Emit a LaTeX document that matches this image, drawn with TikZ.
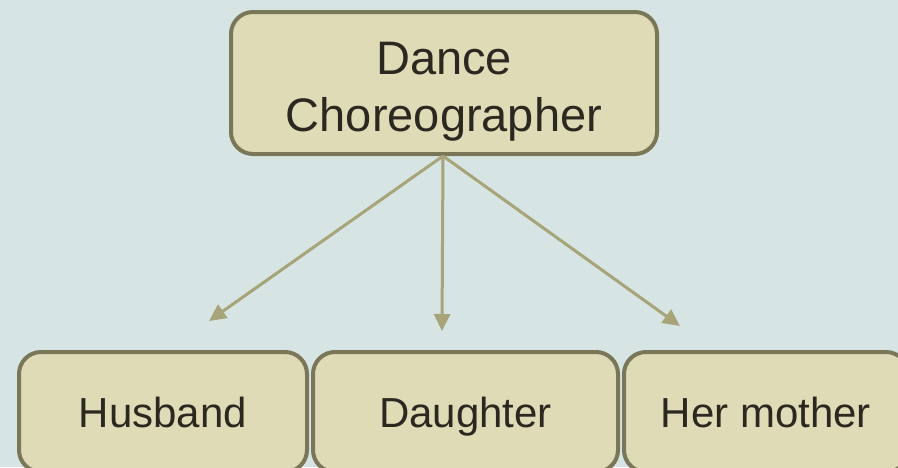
\documentclass[tikz,border=0pt]{standalone}
\usepackage{fontspec}
\setmainfont{Liberation Sans}
\usetikzlibrary{arrows.meta}
\definecolor{bgc}{HTML}{D6E4E4}
\definecolor{boxfill}{HTML}{DFDBB7}
\definecolor{boxline}{HTML}{7A7658}
\definecolor{arrowc}{HTML}{A7A479}
\definecolor{txtc}{HTML}{2B281F}
\tikzset{
  box/.style={draw=boxline, fill=boxfill, line width=4pt, rounded corners=22pt,
    inner sep=0pt, text=txtc, align=center},
  lowbox/.style={box, minimum height=120pt, text height=30pt, text depth=0pt,
    font=\fontsize{42}{50}\selectfont},
  link/.style={draw=arrowc, line width=3pt, -{Triangle[length=17pt,width=16pt]}}
}
\begin{document}
\begin{tikzpicture}[x=1pt,y=1pt]
\useasboundingbox (0,0) rectangle (898,-467);
\clip (0,0) rectangle (898,-467);
\fill[bgc] (0,0) rectangle (898,-467);
\node[box, minimum width=426pt, minimum height=142pt] (top) at (444,-83) {};
\node[text=txtc, align=center, inner sep=0pt, font=\fontsize{47}{57}\selectfont]
  (toplabel) at (444,-91.5) {Dance\\Choreographer};
\node[lowbox, minimum width=288pt] (hus) at (163,-412) {Husband};
\node[lowbox, minimum width=305pt] (dau) at (465.5,-412) {Daughter};
\node[lowbox, minimum width=284pt] (mot) at (766,-412) {Her mother};
\coordinate (src) at (443,-156);
\coordinate (t1) at (209,-321);
\coordinate (t2) at (442,-331);
\coordinate (t3) at (680,-326);
\draw[link] (src) -- (t1);
\draw[link] (src) -- (t2);
\draw[link] (src) -- (t3);
\end{tikzpicture}
\end{document}
